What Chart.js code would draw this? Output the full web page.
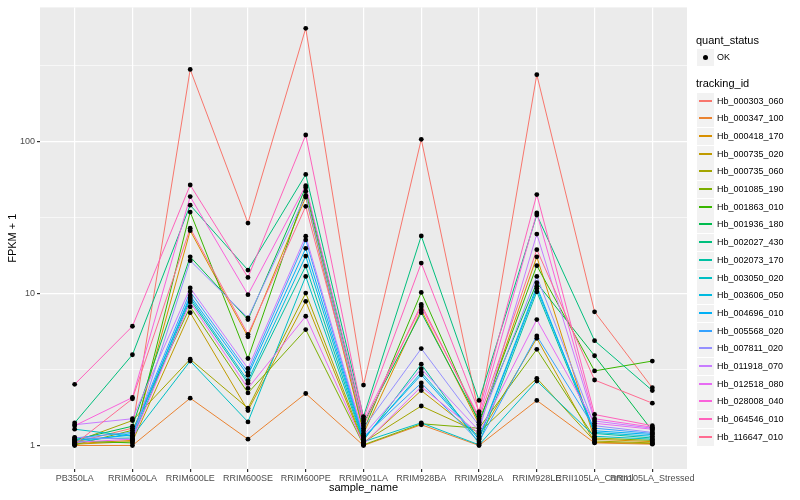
<!DOCTYPE html>
<html>
<head>
<meta charset="utf-8">
<script src="https://cdn.jsdelivr.net/npm/chart.js@4.4.0/dist/chart.umd.min.js"></script>
<style>
  body { margin: 0; background: #fff; font-family: "Liberation Sans", Arial, sans-serif; }
  #wrap { position: relative; width: 800px; height: 500px; }
  #leyenda { position: absolute; left: 0; top: 0; width: 800px; height: 500px; pointer-events: none; }
  .tit { position: absolute; left: 696px; font-size: 11px; color: #000; line-height: 13px; }
  .caja { position: absolute; left: 697px; width: 17px; height: 17px; background: #F2F2F2; }
  .linea { position: absolute; left: 2px; width: 13px; top: 7px; height: 2px; }
  .punto { position: absolute; left: 6px; top: 6px; width: 5px; height: 5px; border-radius: 50%; background: #000; }
  .etq { position: absolute; left: 717px; font-size: 9px; color: #000; line-height: 11px; }
</style>
</head>
<body>
<div id="wrap">
  <canvas id="grafico" width="800" height="500"></canvas>
  <div id="leyenda"></div>
</div>
<script>
// Muestras en el eje X
const muestras = ['PB350LA', 'RRIM600LA', 'RRIM600LE', 'RRIM600SE', 'RRIM600PE', 'RRIM901LA',
  'RRIM928BA', 'RRIM928LA', 'RRIM928LE', 'RRII105LA_Control', 'RRII105LA_Stressed'];

const ids = ['Hb_000303_060', 'Hb_000347_100', 'Hb_000418_170', 'Hb_000735_020', 'Hb_000735_060',
  'Hb_001085_190', 'Hb_001863_010', 'Hb_001936_180', 'Hb_002027_430', 'Hb_002073_170',
  'Hb_003050_020', 'Hb_003606_050', 'Hb_004696_010', 'Hb_005568_020', 'Hb_007811_020',
  'Hb_011918_070', 'Hb_012518_080', 'Hb_028008_040', 'Hb_064546_010', 'Hb_116647_010'];

const colores = ['#F8766D', '#EA8331', '#D89000', '#C09B00', '#A3A500', '#7CAE00', '#39B600',
  '#00BB4E', '#00BF7D', '#00C1A3', '#00BFC4', '#00BAE0', '#00B0F6', '#35A2FF', '#9590FF',
  '#C77CFF', '#E76BF3', '#FA62DB', '#FF62BC', '#FF6C91'];

// FPKM + 1 por muestra
const hb000303_060 = [1.05, 1.3, 300, 29.2, 560, 2.5, 104, 1.6, 277, 7.6, 2.4];
const hb000347_100 = [1.0, 1.0, 2.05, 1.1, 2.2, 1.0, 1.37, 1.0, 1.98, 1.04, 1.02];
const hb000418_170 = [1.03, 1.08, 26, 5.2, 43.3, 1.2, 7.8, 1.38, 17.5, 1.1, 1.06];
const hb000735_020 = [1.02, 1.06, 7.5, 1.7, 8.9, 1.03, 2.3, 1.15, 5.08, 1.05, 1.03];
const hb000735_060 = [1.06, 1.46, 3.7, 1.76, 10.1, 1.05, 1.82, 1.22, 2.77, 1.07, 1.04];
const hb001085_190 = [1.01, 1.26, 8.2, 2.22, 5.8, 1.01, 1.39, 1.3, 4.3, 1.12, 1.08];
const hb001863_010 = [1.07, 1.04, 34.5, 3.74, 47.3, 1.25, 10.2, 1.42, 15.3, 3.1, 3.6];
const hb001936_180 = [1.09, 1.34, 17.5, 6.75, 50.1, 1.4, 7.5, 1.45, 11.8, 3.9, 1.25];
const hb002027_430 = [1.41, 3.96, 38.3, 14.3, 61, 1.55, 24, 1.98, 33, 4.9, 2.3];
const hb002073_170 = [1.1, 1.12, 9.1, 2.57, 15.2, 1.08, 3.43, 1.03, 10.3, 1.2, 1.12];
const hb003050_020 = [1.28, 1.15, 3.6, 1.43, 13, 1.06, 1.41, 1.01, 2.66, 1.15, 1.1];
const hb003606_050 = [1.04, 1.2, 9.4, 2.67, 17.7, 1.1, 3.03, 1.12, 11.2, 1.22, 1.15];
const hb004696_010 = [1.08, 1.17, 9.7, 2.9, 19.9, 1.12, 2.92, 1.1, 10.8, 1.25, 1.18];
const hb005568_020 = [1.12, 1.22, 10.3, 3.03, 22.6, 1.14, 2.58, 1.06, 5.27, 1.3, 1.2];
const hb007811_020 = [1.13, 1.1, 16.5, 6.93, 44.3, 1.3, 4.35, 1.35, 13, 1.35, 1.22];
const hb011918_070 = [1.37, 1.5, 10.9, 3.22, 23.9, 1.17, 3.2, 1.25, 24.7, 1.45, 1.3];
const hb012518_080 = [1.05, 1.1, 8.8, 2.38, 7.1, 1.02, 2.44, 1.2, 6.75, 1.4, 1.28];
const hb028008_040 = [1.35, 2.07, 43.6, 9.85, 51.5, 1.45, 8.2, 1.55, 34, 1.5, 1.32];
const hb064546_010 = [2.53, 6.1, 52, 12.8, 111, 1.5, 15.9, 1.67, 45, 1.6, 1.35];
const hb116647_010 = [1.02, 2.03, 27, 5.4, 37.6, 1.35, 8.5, 1.5, 19.5, 2.7, 1.9];

const series = [hb000303_060, hb000347_100, hb000418_170, hb000735_020, hb000735_060,
  hb001085_190, hb001863_010, hb001936_180, hb002027_430, hb002073_170, hb003050_020,
  hb003606_050, hb004696_010, hb005568_020, hb007811_020, hb011918_070, hb012518_080,
  hb028008_040, hb064546_010, hb116647_010];

// Marcas del eje Y (mayores con etiqueta, menores solo rejilla)
const marcasMayores = [1, 10, 100];
const marcasMenores = [3.1623, 31.623, 316.23];

const $grafico = document.querySelector('#grafico');

const fondoPanel = {
  id: 'fondoPanel',
  beforeDraw(chart) {
    const { ctx, chartArea: a } = chart;
    ctx.save();
    ctx.fillStyle = '#EBEBEB';
    ctx.fillRect(a.left, a.top, a.width, a.height);
    ctx.restore();
  }
};

const lineas = series.map((valores, i) => ({
  label: ids[i],
  data: valores.map((v, j) => ({ x: j, y: v })),
  borderColor: colores[i],
  backgroundColor: colores[i],
  borderWidth: 1,
  pointRadius: 0,
  tension: 0,
  fill: false,
  order: 20 - i
}));

const puntos = {
  label: 'OK',
  data: series.flatMap(valores => valores.map((v, j) => ({ x: j, y: v }))),
  showLine: false,
  pointRadius: 2.4,
  pointBorderWidth: 0,
  pointBackgroundColor: '#000',
  order: -1
};

new Chart($grafico, {
  type: 'line',
  data: { datasets: [puntos, ...lineas] },
  options: {
    responsive: false,
    animation: false,
    layout: { padding: { left: 0, top: 5, right: 113, bottom: 0 } },
    plugins: { legend: { display: false }, tooltip: { enabled: false } },
    scales: {
      x: {
        type: 'linear',
        min: -0.6,
        max: 10.6,
        afterBuildTicks: s => { s.ticks = muestras.map((_, i) => ({ value: i })); },
        afterFit: s => { s.height = 31; },
        ticks: {
          callback: v => muestras[v],
          autoSkip: false, maxRotation: 0, minRotation: 0,
          color: '#4D4D4D', font: { family: 'Liberation Sans', size: 9 }, padding: 1
        },
        grid: { color: '#FFFFFF', lineWidth: 1.2, tickColor: '#333333', tickLength: 3 },
        border: { display: false },
        title: {
          display: true, text: 'sample_name', color: '#000',
          font: { family: 'Liberation Sans', size: 11 }, padding: { top: 0, bottom: 5 }
        }
      },
      y: {
        type: 'logarithmic',
        min: 0.721,
        max: 769,
        afterBuildTicks: s => {
          s.ticks = [...marcasMayores, ...marcasMenores].sort((a, b) => a - b).map(v => ({ value: v }));
        },
        afterFit: s => { s.width = 40; },
        ticks: {
          callback: v => marcasMayores.includes(v) ? String(v) : '',
          autoSkip: false,
          color: '#4D4D4D', font: { family: 'Liberation Sans', size: 9 }, padding: 2
        },
        grid: {
          color: '#FFFFFF',
          lineWidth: ctx => marcasMayores.includes(ctx.tick && ctx.tick.value) ? 1.2 : 0.6,
          tickColor: ctx => marcasMayores.includes(ctx.tick && ctx.tick.value) ? '#333333' : 'rgba(0,0,0,0)',
          tickLength: 3
        },
        border: { display: false },
        title: {
          display: true, text: 'FPKM + 1', color: '#000',
          font: { family: 'Liberation Sans', size: 11 }, padding: { top: 6, bottom: 0 }
        }
      }
    }
  },
  plugins: [fondoPanel]
});

// Leyenda estilo ggplot
const $leyenda = document.querySelector('#leyenda');
let html = '';
html += '<div class="tit" style="top:34px">quant_status</div>';
html += '<div class="caja" style="top:49px"><div class="punto"></div></div>';
html += '<div class="etq" style="top:52px">OK</div>';
html += '<div class="tit" style="top:77px">tracking_id</div>';
ids.forEach((id, i) => {
  const top = Math.round(92.5 + i * 17.7);
  html += `<div class="caja" style="top:${top}px"><div class="linea" style="background-color:${colores[i]}"></div></div>`;
  html += `<div class="etq" style="top:${top + 3}px">${id}</div>`;
});
$leyenda.innerHTML = html;
</script>
</body>
</html>
